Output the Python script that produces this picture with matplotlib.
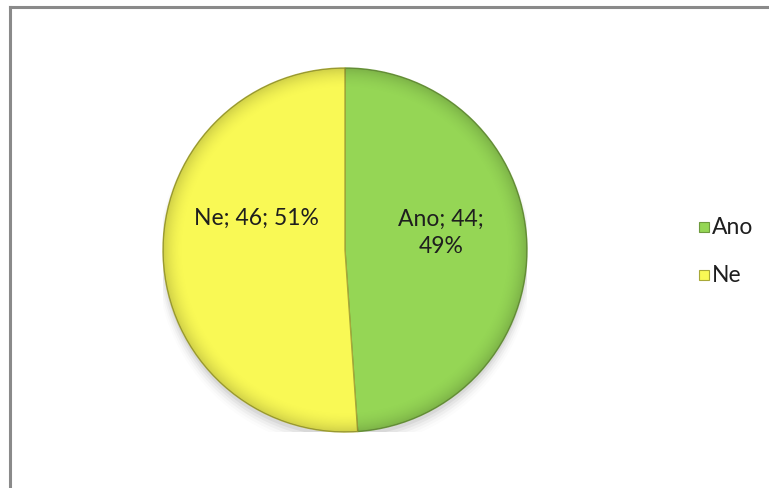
import numpy as np
import matplotlib.pyplot as plt
from matplotlib.patches import Rectangle
from matplotlib.lines import Line2D

categories = ['Ano', 'Ne']
counts = [44, 46]
colors = ['#95D655', '#F9F955']
edge_colors = ['#6E9A3E', '#A8A838']

plt.rcParams['font.family'] = ['Lato', 'DejaVu Sans']

W, H = 769, 489
fig = plt.figure(figsize=(W / 100, H / 100), dpi=100)
fig.patch.set_facecolor('white')

# chart area frame (left and top edges visible)
fig.add_artist(Line2D([10 / W, 10 / W], [0, 1 - 8 / H], transform=fig.transFigure,
                      color='#8A8A8A', lw=2.2))
fig.add_artist(Line2D([10 / W, 1], [1 - 8 / H, 1 - 8 / H], transform=fig.transFigure,
                      color='#8A8A8A', lw=2.2))

# pie axes: center (345, 251), radius 182 px
cx, cy, r = 345, 251, 182
ax = fig.add_axes([(cx - r) / W, 1 - (cy + r) / H, 2 * r / W, 2 * r / H])

# soft shadow under the pie
for i, a in enumerate(np.linspace(0.05, 0.01, 5)):
    ax.add_patch(plt.Circle((0.0, -0.025 - 0.008 * i), 1.0 + 0.008 * i,
                            color='black', alpha=a, lw=0, zorder=0))

wedges, _ = ax.pie(counts, colors=colors, startangle=90, counterclock=False,
                   radius=1.0, wedgeprops=dict(linewidth=1.0))
for w, ec in zip(wedges, edge_colors):
    w.set_edgecolor(ec)
    w.set_zorder(2)

# darken the rim slightly for the bevel look
yy, xx = np.mgrid[-1:1:400j, -1:1:400j]
rr = np.sqrt(xx ** 2 + yy ** 2)
rim = np.clip((rr - 0.88) / 0.12, 0, 1) ** 2
for w in wedges:
    shade = np.zeros((400, 400, 4))
    shade[..., 3] = 0.16 * rim
    im = ax.imshow(shade, extent=(-1, 1, -1, 1), origin='lower', zorder=3)
    im.set_clip_path(w)

ax.set_xlim(-1, 1)
ax.set_ylim(-1, 1)
ax.set_aspect('equal')
ax.axis('off')

total = sum(counts)
pct = [round(100 * c / total) for c in counts]
ax.text((441 - cx) / r, (cy - 233) / r,
        f'{categories[0]}; {counts[0]};\n{pct[0]}%', ha='center', va='center',
        fontsize=16.5, color='#1E1E1E', linespacing=1.35, zorder=5)
ax.text((256 - cx) / r, (cy - 218) / r,
        f'{categories[1]}; {counts[1]}; {pct[1]}%', ha='center', va='center',
        fontsize=16.5, color='#1E1E1E', zorder=5)

# legend
for i, (name, c, ec) in enumerate(zip(categories, colors, edge_colors)):
    y = 228 + 48 * i
    fig.add_artist(Rectangle((699 / W, 1 - (y + 5) / H), 10 / W, 10 / H,
                             transform=fig.transFigure, facecolor=c,
                             edgecolor=ec, lw=0.8))
    fig.text(712 / W, 1 - y / H, name, ha='left', va='center',
             fontsize=16.5, color='#1E1E1E')

fig.savefig('out.png', dpi=100, facecolor='white')
